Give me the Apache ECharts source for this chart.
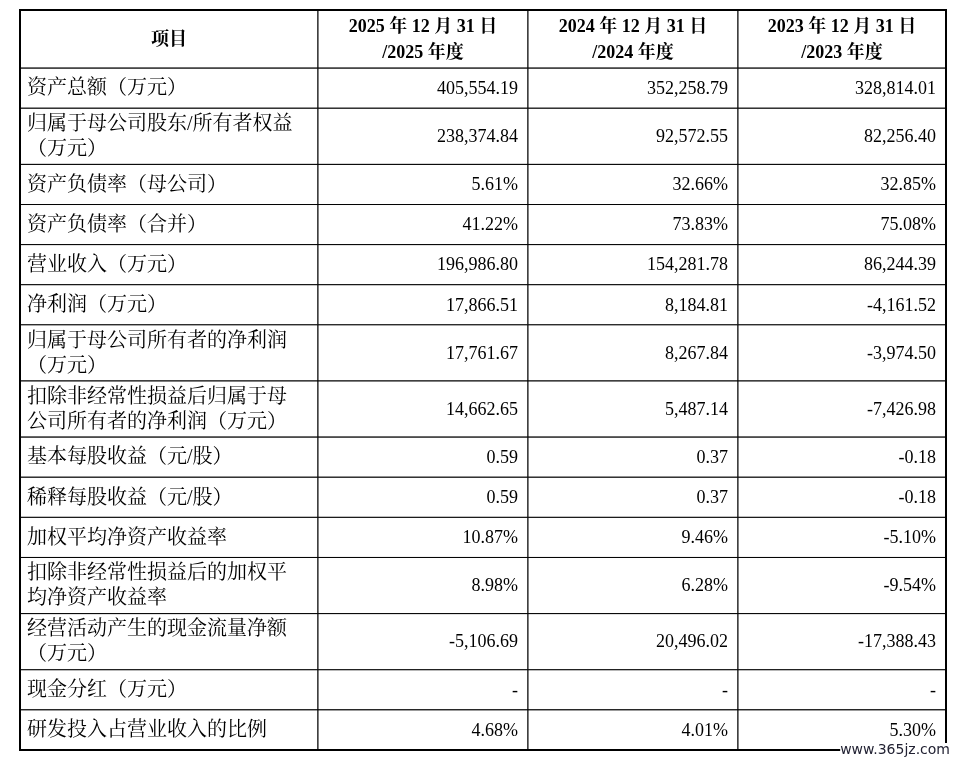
<!DOCTYPE html>
<html><head><meta charset="utf-8">
<script src="https://cdn.jsdelivr.net/npm/echarts@6/dist/echarts.min.js"></script>
<style>html,body{margin:0;padding:0;background:#fff}#c{width:956px;height:759px}</style>
</head><body><div id="c"></div>
<script>
var headers = ['项目', '2025 年 12 月 31 日\n/2025 年度', '2024 年 12 月 31 日\n/2024 年度', '2023 年 12 月 31 日\n/2023 年度'];
var rowLabels = ['资产总额（万元）','归属于母公司股东/所有者权益\n（万元）','资产负债率（母公司）','资产负债率（合并）','营业收入（万元）','净利润（万元）','归属于母公司所有者的净利润\n（万元）','扣除非经常性损益后归属于母\n公司所有者的净利润（万元）','基本每股收益（元/股）','稀释每股收益（元/股）','加权平均净资产收益率','扣除非经常性损益后的加权平\n均净资产收益率','经营活动产生的现金流量净额\n（万元）','现金分红（万元）','研发投入占营业收入的比例'];
var col2025 = ['405,554.19','238,374.84','5.61%','41.22%','196,986.80','17,866.51','17,761.67','14,662.65','0.59','0.59','10.87%','8.98%','-5,106.69','-','4.68%'];
var col2024 = ['352,258.79','92,572.55','32.66%','73.83%','154,281.78','8,184.81','8,267.84','5,487.14','0.37','0.37','9.46%','6.28%','20,496.02','-','4.01%'];
var col2023 = ['328,814.01','82,256.40','32.85%','75.08%','86,244.39','-4,161.52','-3,974.50','-7,426.98','-0.18','-0.18','-5.10%','-9.54%','-17,388.43','-','5.30%'];

var colEdges = [0, 298, 508, 718, 926];
var rowEdges = [0, 58];
rowLabels.forEach(function(l){ rowEdges.push(rowEdges[rowEdges.length-1] + (l.indexOf('\n')>=0 ? 56 : 40)); });
var total = rowEdges[rowEdges.length-1];

var cols = [col2025, col2024, col2023];
var data = [];
for (var c=0;c<4;c++) data.push([c,0,headers[c]]);
rowLabels.forEach(function(l,r){
  data.push([0,r+1,l]);
  for (var c=0;c<3;c++) data.push([c+1,r+1,cols[c][r]]);
});
var FF = '"Liberation Serif","Noto Serif CJK SC","Noto Sans CJK SC",serif';
function renderItem(params, api){
  var c = api.value(0), r = api.value(1), t = data[params.dataIndex][2];
  var p0 = api.coord([colEdges[c], rowEdges[r]]);
  var p1 = api.coord([colEdges[c+1], rowEdges[r+1]]);
  var header = r===0;
  var tx, align, fs = 17;
  if (header) { tx=(p0[0]+p1[0])/2; align='center'; fs=18; }
  else if (c===0) { tx=p0[0]+7; align='left'; fs=20; }
  else { tx=p1[0]-10; align='right'; fs=18; }
  return {type:'group', children:[
    {type:'rect', shape:{x:p0[0],y:p0[1],width:p1[0]-p0[0],height:p1[1]-p0[1]}, style:{fill:'#fff',stroke:'#000',lineWidth:1}},
    {type:'text', style:{x:tx,y:(p0[1]+p1[1])/2+1,text:t,textAlign:align,textVerticalAlign:'middle',
      fontFamily:FF,fontSize:fs,fontWeight:header?'bold':'normal',lineHeight:header?26:25,fill:'#000'}}
  ]};
}
var chart = echarts.init(document.getElementById('c'));
chart.setOption({
  animation:false,
  grid:{left:20,right:10,top:10,bottom:9,show:true,borderColor:'#000',borderWidth:2,backgroundColor:'transparent',z:10},
  xAxis:{type:'value',min:0,max:926,show:false},
  yAxis:{type:'value',min:0,max:total,inverse:true,show:false},
  series:[{type:'custom',renderItem:renderItem,data:data.map(function(d){return [d[0],d[1]];})}],
  graphic:[{type:'text',right:6,bottom:2,z:100,style:{text:'www.365jz.com',fontFamily:'"DejaVu Sans",sans-serif',fontSize:14,fill:'#223',backgroundColor:'#fff'}}]
});
</script></body></html>
